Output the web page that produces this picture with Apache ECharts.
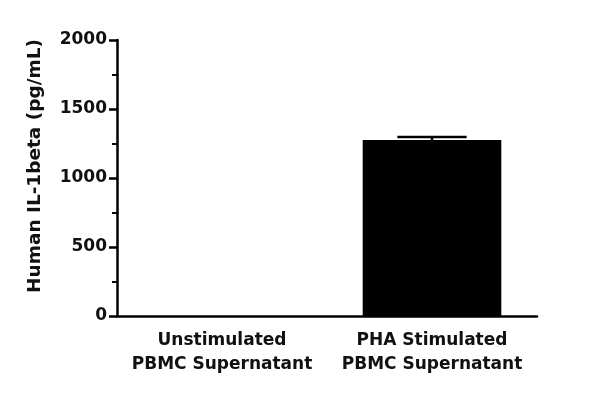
<!DOCTYPE html>
<html><head><meta charset="utf-8">
<script src="https://cdn.jsdelivr.net/npm/echarts@6/dist/echarts.min.js"></script>
<style>html,body{margin:0;padding:0;background:#fff}#c{width:600px;height:397px}</style>
</head><body><div id="c"></div>
<script>
const categories = ['Unstimulated\nPBMC Supernatant', 'PHA Stimulated\nPBMC Supernatant'];
const means = [0, 1275];
const errors = [0, 22];
const yTicks = [0, 500, 1000, 1500, 2000];

const font = 'DejaVu Sans';
const chart = echarts.init(document.getElementById('c'));
chart.setOption({
  animation: false,
  grid: {left: 117, right: 63, top: 40, bottom: 81},
  xAxis: {
    type: 'category', data: categories,
    axisLine: {lineStyle: {color: '#000', width: 2.5}},
    axisTick: {alignWithLabel: true, length: 7, lineStyle: {color: '#000', width: 2.5}},
    axisLabel: {interval: 0, color: '#111', fontFamily: font, fontWeight: 'bold', fontSize: 17, lineHeight: 24, margin: 13}
  },
  yAxis: {
    type: 'value', min: yTicks[0], max: yTicks[yTicks.length-1], interval: 500,
    name: 'Human IL-1beta (pg/mL)', nameLocation: 'middle', nameGap: 72,
    nameTextStyle: {color: '#111', fontFamily: font, fontWeight: 'bold', fontSize: 18.5, padding: [0, 0, 0, 24]},
    axisLine: {show: true, lineStyle: {color: '#000', width: 2.5}},
    axisTick: {show: true, length: 8, lineStyle: {color: '#000', width: 2.5}},
    minorTick: {show: true, splitNumber: 2, length: 5, lineStyle: {color: '#000', width: 2}},
    splitLine: {show: false},
    axisLabel: {color: '#111', fontFamily: font, fontWeight: 'bold', fontSize: 17, margin: 10,
      formatter: v => String(v)}
  },
  series: [
    {type: 'bar', data: means, barWidth: '66%', itemStyle: {color: '#000'}},
    {type: 'custom', data: means.map((m, i) => [i, m, errors[i]]),
      renderItem: function(params, api) {
        const i = api.value(0), m = api.value(1), e = api.value(2);
        if (!e) return;
        const top = api.coord([i, m + e]);
        const mid = api.coord([i, m]);
        const half = api.size([1, 0])[0] * 0.165;
        return {type: 'group', children: [
          {type: 'line', shape: {x1: top[0], y1: top[1], x2: mid[0], y2: mid[1]}, style: {stroke: '#000', lineWidth: 2.5}},
          {type: 'line', shape: {x1: top[0]-half, y1: top[1], x2: top[0]+half, y2: top[1]}, style: {stroke: '#000', lineWidth: 2.5}}
        ]};
      }, z: 5}
  ]
});
</script></body></html>
